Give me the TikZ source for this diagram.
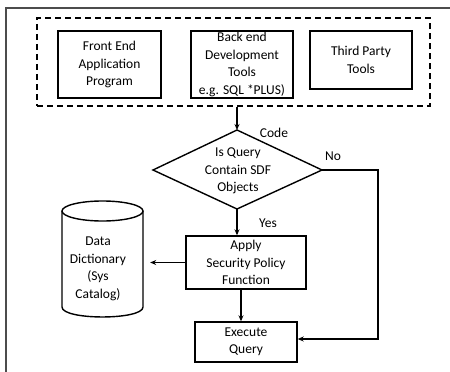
\documentclass[tikz,border=0pt]{standalone}
\usepackage{fontspec}
\setmainfont{Carlito}
\usetikzlibrary{arrows.meta}
\begin{document}
\begin{tikzpicture}[x=1pt,y=-1pt,
  every node/.style={font=\fontsize{13.5}{17.5}\selectfont, align=center},
  box/.style={draw, line width=1.4pt, inner sep=0pt},
  arr/.style={line width=1.1pt, -{Stealth[length=6pt,width=5pt]}},
  lbl/.style={inner sep=0pt}]
\useasboundingbox (0,0) rectangle (450,372);

% frame edges
\draw[line width=1.2pt, black!70] (6,372) -- (6,8) -- (450,8);

% group of query sources
\node[box, dashed, dash pattern=on 6pt off 4pt, minimum width=393, minimum height=88] (grp) at (233.5,62) {};
\node[box, minimum width=103, minimum height=67] (front) at (109.5,64.5) {Front End\\Application\\Program};
\node[box, minimum width=102, minimum height=67] (back) at (242,64.5) {Back end\\Development\\Tools\\e.g. SQL *PLUS)};
\node[box, minimum width=102, minimum height=58] (third) at (361,60) {Third Party\\Tools};

% decision
\coordinate (dtop) at (237,130);
\coordinate (dleft) at (153,170);
\coordinate (dright) at (322,170);
\coordinate (dbot) at (237,209);
\draw[line width=1.4pt, line join=miter] (dtop) -- (dright) -- (dbot) -- (dleft) -- cycle;
\node (dtext) at (238,171) {Is Query\\Contain SDF\\Objects};

% process boxes
\node[box, minimum width=120, minimum height=53] (apply) at (246,262.5) {Apply\\Security Policy\\Function};
\node[box, minimum width=102, minimum height=40] (exec) at (246,342) {Execute\\Query};

% data dictionary store
\node[minimum width=81, minimum height=116, inner sep=0pt] (db) at (102.5,259) {};
\draw[line width=1.4pt] (102.5,211) ellipse [x radius=40.5, y radius=10];
\draw[line width=1.4pt] (62,211) -- (62,307) .. controls (62,320.3) and (143,320.3) .. (143,307) -- (143,211);
\node (dbtext) at (98,269) {Data\\Dictionary\\(Sys\\Catalog)};

% connectors
\draw[arr, shorten >=7pt] (apply.west) -- (apply.west -| db.east);
\draw[arr] (dtop |- grp.south) -- (dtop);
\draw[arr] (dbot) -- (dbot |- apply.north);
\draw[arr] ([xshift=-5pt]apply.south) -- ([xshift=-5pt]apply.south |- exec.north);
\coordinate (nout) at (378,170);
\draw[arr] (dright) -- (nout) |- ([yshift=3pt]exec.east);

% labels
\node[lbl] (code) at (274,133) {Code};
\node[lbl] (no) at (333,156) {No};
\node[lbl] (yes) at (268,223) {Yes};
\end{tikzpicture}
\end{document}
